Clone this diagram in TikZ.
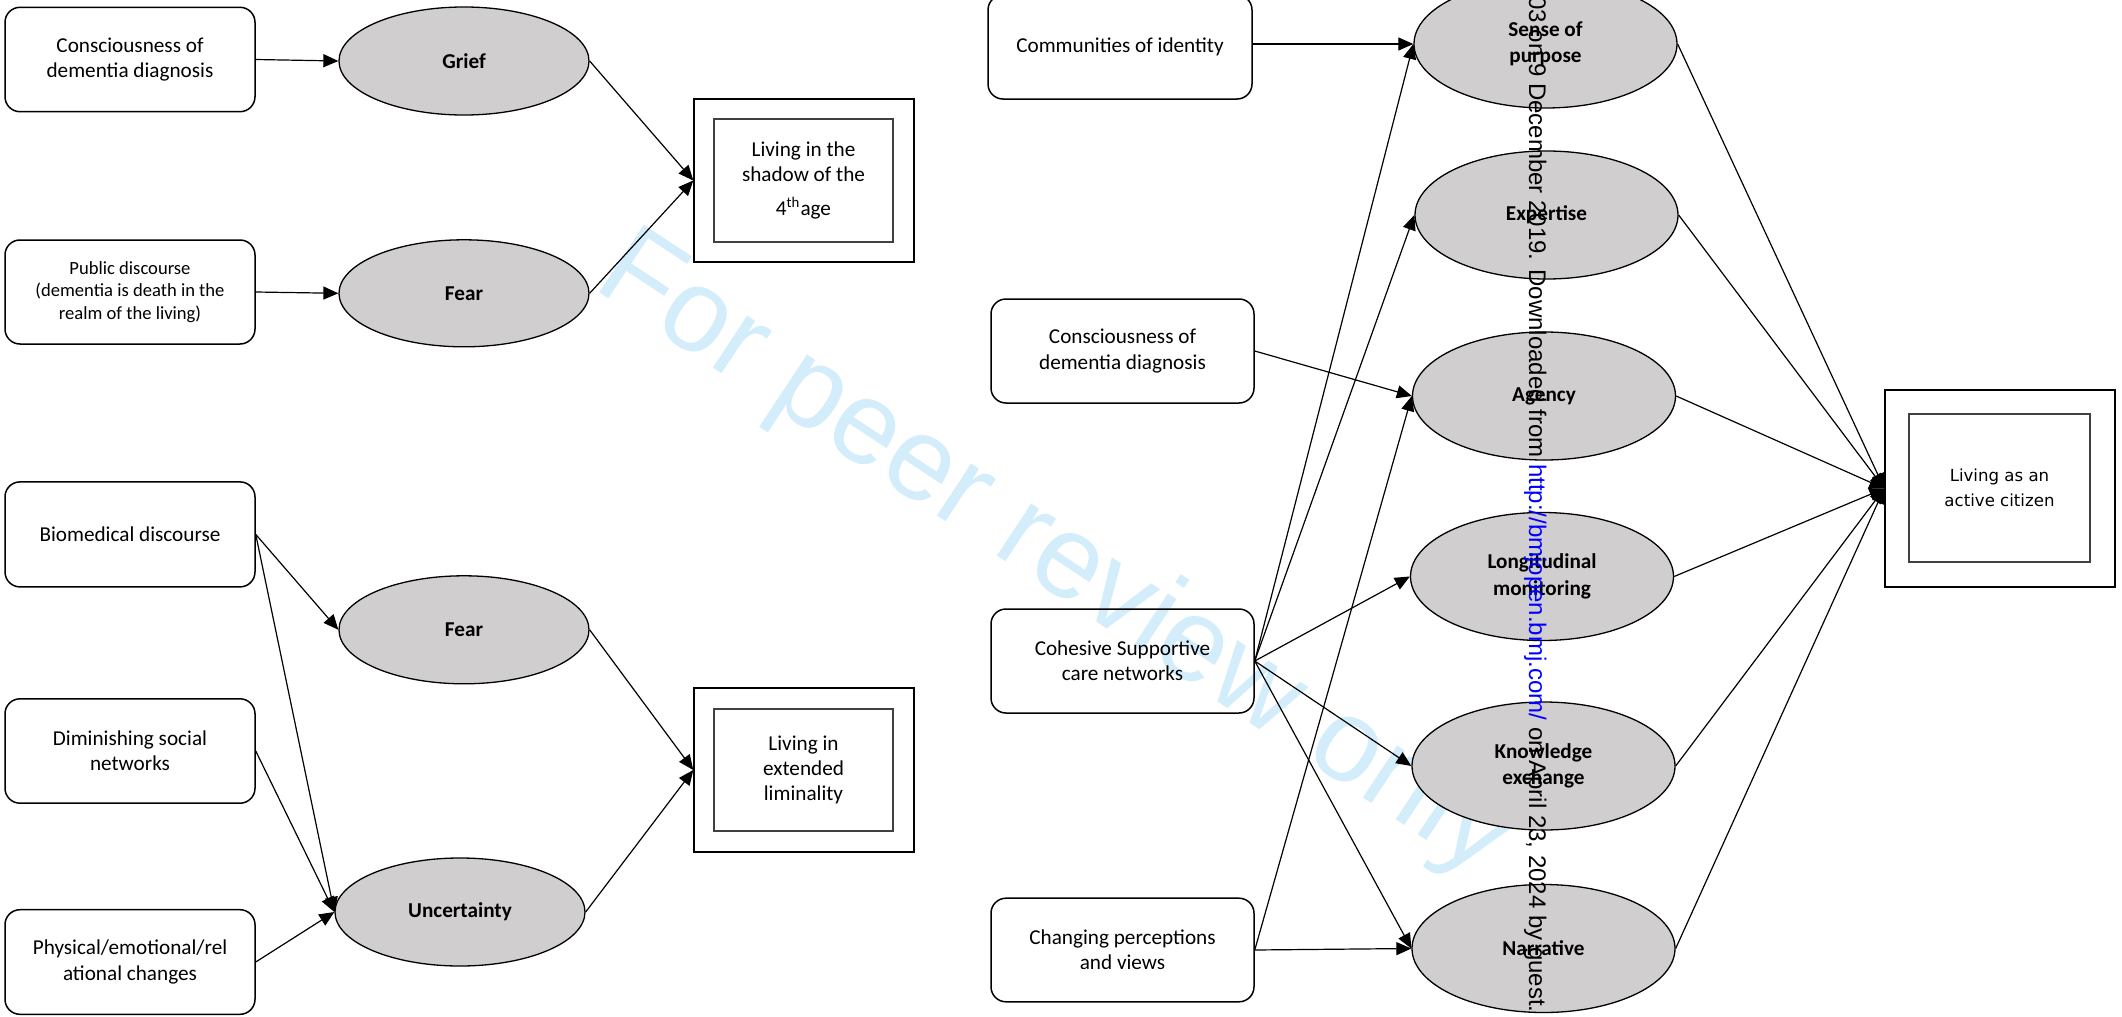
\documentclass[tikz,border=0pt]{standalone}
\usepackage{fontspec}
\setmainfont{Carlito}
\newfontfamily\wmfont{Liberation Sans}
\newfontfamily\citfont{DejaVu Sans}
\usetikzlibrary{arrows.meta,shapes.geometric}

\definecolor{ellfill}{RGB}{208,206,206}
\definecolor{wmblue}{RGB}{212,237,251}
\definecolor{innergray}{RGB}{64,64,64}
\definecolor{urlblue}{RGB}{0,0,255}

\tikzset{
  cause/.style={draw, rounded corners=7.5pt, line width=0.75pt, align=center,
    inner sep=0pt, font=\fontsize{10.6}{12.6}\selectfont},
  smallcause/.style={cause, font=\fontsize{9.3}{11.3}\selectfont},
  theme/.style={ellipse, draw, fill=ellfill, line width=0.65pt, align=center,
    inner sep=0pt, font=\bfseries\fontsize{10.6}{13.2}\selectfont},
  outerbox/.style={draw, line width=0.7pt, inner sep=0pt},
  innerbox/.style={draw=innergray, line width=1pt, inner sep=0pt, align=center,
    font=\fontsize{10.6}{12.6}\selectfont},
  link/.style={line width=0.6pt, -{Triangle[length=7.5pt,width=6.5pt]}},
}

\begin{document}
\begin{tikzpicture}[x=0.5pt,y=-0.5pt]
\useasboundingbox (0,0) rectangle (2122,1017);

% diagonal watermark
\node[anchor=base west, rotate=-33.5, inner sep=0pt, text=wmblue,
  font=\wmfont\fontsize{59}{61}\selectfont] (wm) at (591,287) {For peer review only};

% ---------- left: living in the shadow of the 4th age ----------
\node[cause, minimum width=125pt, minimum height=52.2pt] (a1) at (130,59.5)
  {Consciousness of\\dementia diagnosis};
\node[smallcause, minimum width=125pt, minimum height=52pt] (a2) at (130,292)
  {Public discourse\\(dementia is death in the\\realm of the living)};
\node[theme, minimum width=125pt, minimum height=54pt] (grief) at (464,61) {Grief};
\node[theme, minimum width=125pt, minimum height=53.5pt] (fear1) at (464,293.3) {Fear};
\node[outerbox, minimum width=110pt, minimum height=81.5pt] (shadowout) at (804,180.5) {};
\node[innerbox, minimum width=89.5pt, minimum height=61.5pt] (shadowin) at (803.5,180.5)
  {Living in the\\shadow of the\\[4.4pt]4\textsuperscript{th}age};

% ---------- left: living in extended liminality ----------
\node[cause, minimum width=125pt, minimum height=52.5pt] (b1) at (130,534.4)
  {Biomedical discourse};
\node[cause, minimum width=125pt, minimum height=52.2pt] (b2) at (130,751)
  {Diminishing social\\networks};
\node[cause, minimum width=125pt, minimum height=52.3pt] (b3) at (130,962)
  {Physical/emotional/rel\\ational changes};
\node[theme, minimum width=125pt, minimum height=54pt] (fear2) at (464,629.8) {Fear};
\node[theme, minimum width=125pt, minimum height=54pt] (uncert) at (460,912) {Uncertainty};
\node[outerbox, minimum width=110pt, minimum height=82pt] (liminout) at (804,770) {};
\node[innerbox, minimum width=89.5pt, minimum height=61.3pt] (liminin) at (803.5,770)
  {Living in\\extended\\liminality};

% ---------- right: living as an active citizen ----------
\node[cause, minimum width=132pt, minimum height=52pt] (comm) at (1120,47)
  {Communities of identity};
\node[cause, minimum width=131.5pt, minimum height=52pt] (consc) at (1122.5,351)
  {Consciousness of\\dementia diagnosis};
\node[cause, minimum width=131.5pt, minimum height=52pt] (cohes) at (1122.5,661)
  {Cohesive Supportive\\care networks};
\node[cause, minimum width=131.5pt, minimum height=51.8pt] (chang) at (1122.5,950)
  {Changing perceptions\\and views};

\node[theme, minimum width=131.5pt, minimum height=64pt] (sense) at (1545.5,44) {Sense of\\purpose};
\node[theme, minimum width=131.5pt, minimum height=64pt] (expert) at (1546.5,215) {Expertise};
\node[theme, minimum width=131.5pt, minimum height=64pt] (agency) at (1544,396) {Agency};
\node[theme, minimum width=131.5pt, minimum height=64pt] (longi) at (1542,576.5) {Longitudinal\\monitoring};
\node[theme, minimum width=131.5pt, minimum height=64pt] (knowl) at (1543.5,766) {Knowledge\\exchange};
\node[theme, minimum width=131.5pt, minimum height=64pt] (narr) at (1543.5,948.5) {Narrative};

\node[outerbox, minimum width=115pt, minimum height=98.5pt] (citout) at (2000,488.5) {};
\node[innerbox, minimum width=90.5pt, minimum height=74pt,
  font=\citfont\fontsize{8.3}{12.3}\selectfont] (citin) at (1999.5,488)
  {Living as an\\active citizen};

% ---------- connectors ----------
\draw[link] (a1.east) -- (grief.west);
\draw[link] (a2.east) -- (fear1.west);
\draw[link] (grief.east) -- (shadowout.west);
\draw[link] (fear1.east) -- (shadowout.west);

\draw[link] (b1.east) -- (fear2.west);
\draw[link] (b1.east) -- (uncert.west);
\draw[link] (b2.east) -- (uncert.west);
\draw[link] (b3.east) -- (uncert.west);
\draw[link] (fear2.east) -- (liminout.west);
\draw[link] (uncert.east) -- (liminout.west);

\draw[link] (comm.east |- sense.west) -- (sense.west);
\draw[link] (consc.east) -- (agency.west);
\draw[link] (cohes.east) -- (sense.west);
\draw[link] (cohes.east) -- (expert.west);
\draw[link] (cohes.east) -- (longi.west);
\draw[link] (cohes.east) -- (knowl.west);
\draw[link] (cohes.east) -- (narr.west);
\draw[link] (chang.east) -- (agency.west);
\draw[link] (chang.east) -- (narr.west);

\foreach \t in {sense,expert,agency,longi,knowl,narr}
  \draw[link] (\t.east) -- (citout.west);

% vertical download notice
\node[anchor=base west, rotate=-90, inner sep=0pt,
  font=\wmfont\fontsize{12}{14}\selectfont] (dl) at (1529,-4)
  {03 on 9 December 2019. Downloaded from \textcolor{urlblue}{http://bmjopen.bmj.com/} on April 23, 2024 by guest.};
\end{tikzpicture}
\end{document}
